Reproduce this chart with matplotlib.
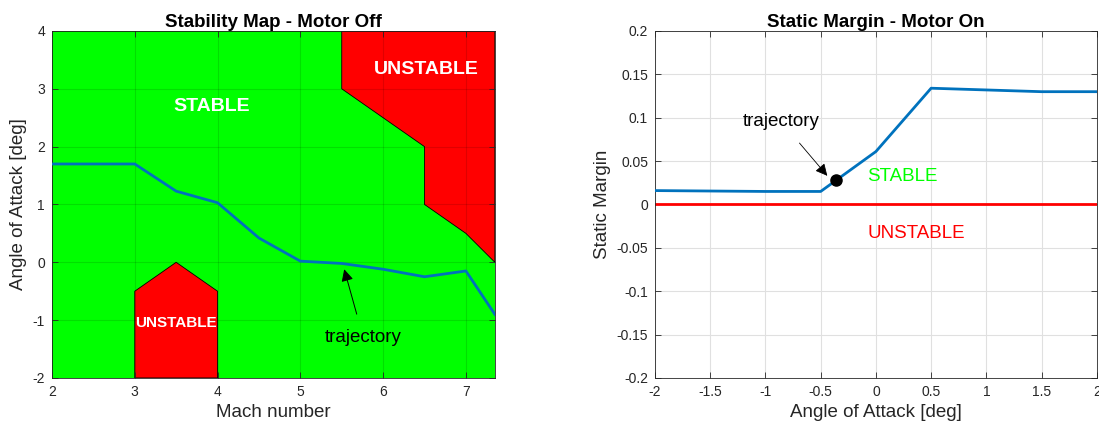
import matplotlib.pyplot as plt
from matplotlib.patches import Polygon

plt.rcParams['font.family'] = ['Liberation Sans', 'DejaVu Sans']
plt.rcParams['axes.unicode_minus'] = False

# 左: 安定マップ (Motor Off)
mach_lim = [2, 7.35]
aoa_lim = [-2, 4]
unstable_top_x = [5.5, 5.5, 6.5, 6.5, 7.0, 7.35, 7.35]
unstable_top_y = [4.0, 3.0, 2.0, 1.0, 0.5, 0.0, 4.0]
unstable_bot_x = [3.0, 3.0, 3.5, 4.0, 4.0]
unstable_bot_y = [-2.0, -0.5, 0.0, -0.5, -2.0]
traj_mach = [2, 3, 3.5, 4, 4.5, 5, 5.5, 6, 6.5, 7, 7.35]
traj_aoa = [1.7, 1.7, 1.23, 1.03, 0.42, 0.02, -0.02, -0.12, -0.25, -0.15, -0.9]

# 右: 静的余裕 (Motor On)
sm_aoa = [-2, -1, -0.5, 0, 0.5, 1, 1.5, 2]
sm_val = [0.016, 0.015, 0.015, 0.061, 0.134, 0.132, 0.130, 0.130]
point_aoa = -0.36
point_sm = 0.028

blue = '#0072BD'
tick_color = '#262626'

fig = plt.figure(figsize=(10.99, 4.3), dpi=100)
ax1 = fig.add_axes([0.0473, 0.121, 0.403, 0.807])
ax2 = fig.add_axes([0.596, 0.121, 0.402, 0.807])

# 左側
ax1.add_patch(Polygon(list(zip([mach_lim[0], mach_lim[1], mach_lim[1], mach_lim[0]],
                               [aoa_lim[0], aoa_lim[0], aoa_lim[1], aoa_lim[1]])),
                      facecolor='#00FF00', edgecolor='none', zorder=0))
ax1.add_patch(Polygon(list(zip(unstable_top_x, unstable_top_y)), facecolor='#FF0000',
                      edgecolor='black', linewidth=0.6, zorder=1))
ax1.add_patch(Polygon(list(zip(unstable_bot_x, unstable_bot_y)), facecolor='#FF0000',
                      edgecolor='black', linewidth=0.6, zorder=1))
ax1.plot(traj_mach, traj_aoa, color=blue, linewidth=2, zorder=3)
ax1.text(3.93, 2.7, 'STABLE', color='white', fontweight='bold', fontsize=14,
         ha='center', va='center')
ax1.text(6.52, 3.33, 'UNSTABLE', color='white', fontweight='bold', fontsize=14,
         ha='center', va='center')
ax1.text(3.5, -1.05, 'UNSTABLE', color='white', fontweight='bold', fontsize=11,
         ha='center', va='center')
ax1.annotate('trajectory', xy=(5.53, -0.12), xytext=(5.76, -1.3),
             fontsize=13.5, ha='center', va='center',
             arrowprops=dict(arrowstyle='-|>', color='black', lw=0.7,
                             mutation_scale=18, shrinkA=9, shrinkB=0))
ax1.set_xlim(mach_lim)
ax1.set_ylim(aoa_lim)
ax1.set_xticks([2, 3, 4, 5, 6, 7])
ax1.set_yticks([-2, -1, 0, 1, 2, 3, 4])
ax1.grid(True, color='black', alpha=0.12, linewidth=0.8)
ax1.set_axisbelow(False)
ax1.set_title('Stability Map - Motor Off', fontsize=13.5, fontweight='bold', pad=3)
ax1.set_xlabel('Mach number', fontsize=13.5, color=tick_color)
ax1.set_ylabel('Angle of Attack [deg]', fontsize=13.5, color=tick_color)

# 右側
ax2.plot(sm_aoa, sm_val, color=blue, linewidth=2, zorder=3)
ax2.axhline(0, color='#FF0000', linewidth=2, zorder=2)
ax2.plot(point_aoa, point_sm, 'o', color='black', markersize=8, zorder=4)
ax2.text(-0.08, 0.032, 'STABLE', color='#00FF00', fontsize=13.5, ha='left', va='center')
ax2.text(-0.08, -0.034, 'UNSTABLE', color='#FF0000', fontsize=13.5, ha='left', va='center')
ax2.annotate('trajectory', xy=(-0.44, 0.033), xytext=(-0.86, 0.096),
             fontsize=13.5, ha='center', va='center',
             arrowprops=dict(arrowstyle='-|>', color='black', lw=0.6,
                             mutation_scale=18, shrinkA=10, shrinkB=0))
ax2.set_xlim(-2, 2)
ax2.set_ylim(-0.2, 0.2)
ax2.set_xticks([-2, -1.5, -1, -0.5, 0, 0.5, 1, 1.5, 2])
ax2.set_xticklabels(['-2', '-1.5', '-1', '-0.5', '0', '0.5', '1', '1.5', '2'])
ax2.set_yticks([-0.2, -0.15, -0.1, -0.05, 0, 0.05, 0.1, 0.15, 0.2])
ax2.set_yticklabels(['-0.2', '-0.15', '-0.1', '-0.05', '0', '0.05', '0.1', '0.15', '0.2'])
ax2.grid(True, color='#E0E0E0', linewidth=0.8)
ax2.set_axisbelow(True)
ax2.set_title('Static Margin - Motor On', fontsize=13.5, fontweight='bold', pad=3)
ax2.set_xlabel('Angle of Attack [deg]', fontsize=13.5, color=tick_color)
ax2.set_ylabel('Static Margin', fontsize=13.5, color=tick_color)

for ax in (ax1, ax2):
    ax.tick_params(direction='in', top=True, right=True, length=4, width=0.6,
                   labelsize=10, colors=tick_color, pad=5)
    for s in ax.spines.values():
        s.set_linewidth(0.6)
        s.set_color(tick_color)

fig.savefig('out.png', dpi=100)
